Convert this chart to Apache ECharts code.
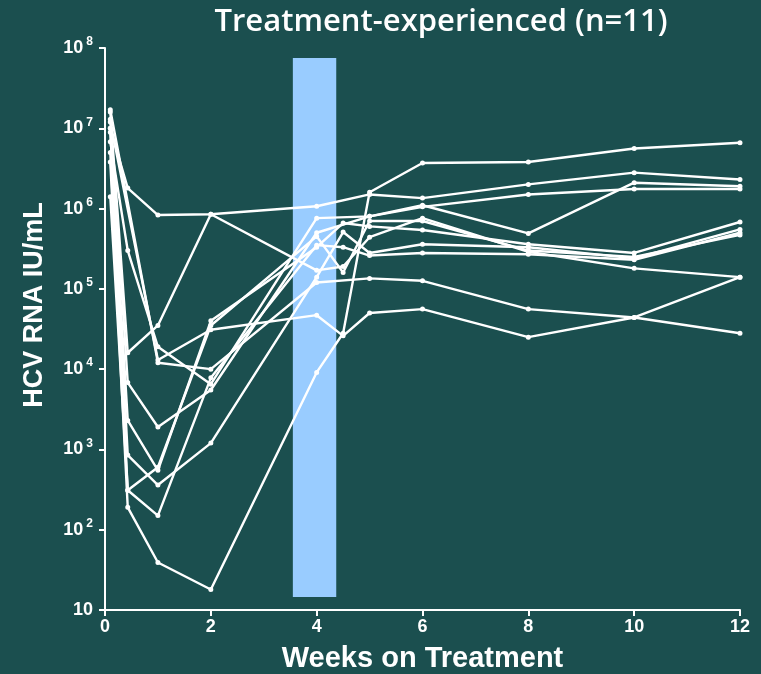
<!DOCTYPE html>
<html>
<head>
<meta charset="utf-8">
<script src="https://cdn.jsdelivr.net/npm/echarts@6/dist/echarts.min.js"></script>
<style>
html, body { margin: 0; padding: 0; background: #1b4f4f; }
#main { width: 761px; height: 674px; }
</style>
</head>
<body>
<div id="main"></div>
<script>
// sampling times (weeks), shared by every patient; null = no sample
var weeks = [0.1, 0.43, 1, 2, 4, 4.5, 5, 6, 8, 10, 12];

// HCV RNA (IU/mL) per patient
var pt1  = [3.8e6, 190, 39, 18, 9.1e3, 2.8e4, 1.6e6, 3.7e6, 3.8e6, 5.6e6, 6.6e6];
var pt2  = [1.0e7, 1.8e6, 8.3e5, 8.5e5, 1.07e6, null, 1.5e6, 1.35e6, 2.0e6, 2.8e6, 2.3e6];
var pt3  = [1.6e7, 1.6e4, 3.5e4, 8.5e5, 1.7e5, 1.9e5, 4.4e5, 7.6e5, 2.9e5, 1.8e5, 1.4e5];
var pt4  = [6.8e6, 3.0e5, 1.9e4, 6.5e3, 7.6e5, null, 8.0e5, 1.05e6, 1.5e6, 1.75e6, 1.75e6];
var pt5  = [1.3e7, 6.8e3, 1.9e3, 5.5e3, 5.0e5, null, 8.0e5, 1.1e6, 4.9e5, 2.1e6, 1.9e6];
var pt6  = [8.9e6, 2.3e3, 550, 4.0e4, 3.3e5, 6.6e5, 6.0e5, 5.4e5, 3.6e5, 2.8e5, 6.8e5];
var pt7  = [1.0e7, 850, 360, 1.2e3, 1.4e5, 5.1e5, 2.8e5, 3.6e5, 3.3e5, 2.4e5, 5.5e5];
var pt8  = [5.0e6, 310, 150, 7.8e3, 3.5e5, 3.3e5, 2.6e5, 2.8e5, 2.7e5, 2.3e5, 5.0e5];
var pt9  = [1.4e6, 310, 600, 3.5e4, 4.5e5, 1.6e5, 7.0e5, 7.0e5, 3.0e5, 2.5e5, 4.7e5];
var pt10 = [1.7e7, null, 1.2e4, 1.0e4, 1.2e5, null, 1.35e5, 1.26e5, 5.6e4, 4.4e4, 2.8e4];
var pt11 = [1.2e7, null, 1.3e4, 3.1e4, 4.7e4, 2.6e4, 5.0e4, 5.6e4, 2.5e4, 4.4e4, 1.4e5];
var patients = [pt1, pt2, pt3, pt4, pt5, pt6, pt7, pt8, pt9, pt10, pt11];

// shaded week-4 window
var bandWeeks = [3.55, 4.37];
var bandLoad = [14.5, 7.5e7];

var yTicks = [10, 1e2, 1e3, 1e4, 1e5, 1e6, 1e7, 1e8];

var dom = document.getElementById('main');
var myChart = echarts.init(dom);

function pairs(vals) {
    var out = [];
    for (var i = 0; i < weeks.length; i++) {
        if (vals[i] != null) out.push([weeks[i], vals[i]]);
    }
    return out;
}

var series = [{
    type: 'line',
    data: [],
    z: 1,
    silent: true,
    markArea: {
        silent: true,
        itemStyle: { color: '#99ccff', opacity: 1 },
        data: [[
            { coord: [bandWeeks[0], bandLoad[0]] },
            { coord: [bandWeeks[1], bandLoad[1]] }
        ]]
    }
}];
patients.forEach(function (p, i) {
    series.push({
        name: 'pt' + (i + 1),
        type: 'line',
        z: 3,
        data: pairs(p),
        symbol: 'emptyCircle',
        symbolSize: 3,
        lineStyle: { color: '#ffffff', width: 2.4 },
        itemStyle: { color: '#ffffff', borderColor: '#ffffff' },
        animation: false
    });
});

var boldFont = 'Liberation Sans, Arial';

option = {
    backgroundColor: '#1b4f4f',
    animation: false,
    title: {
        text: 'Treatment-experienced (n=11)',
        left: 436,
        textAlign: 'center',
        top: 2,
        textStyle: { color: '#ffffff', fontFamily: 'Open Sans', fontWeight: 600, fontSize: 31 }
    },
    graphic: [{
        type: 'text',
        x: 35,
        y: 305,
        rotation: Math.PI / 2,
        style: {
            text: 'HCV RNA IU/mL',
            fill: '#ffffff',
            font: 'bold 27px ' + boldFont,
            textAlign: 'center',
            textVerticalAlign: 'middle'
        }
    }],
    grid: { left: 105, right: 21, top: 48, bottom: 64, outerBoundsMode: 'none' },
    xAxis: {
        type: 'value',
        min: 0, max: 12, interval: 2,
        name: 'Weeks on Treatment',
        nameLocation: 'middle',
        nameGap: 34,
        nameTextStyle: { color: '#ffffff', fontFamily: boldFont, fontWeight: 'bold', fontSize: 29 },
        axisLine: { lineStyle: { color: '#ffffff', width: 2 } },
        axisTick: { show: true, length: 6, lineStyle: { color: '#ffffff', width: 2 } },
        axisLabel: { margin: 8, color: '#ffffff', fontFamily: boldFont, fontWeight: 'bold', fontSize: 18 },
        splitLine: { show: false }
    },
    yAxis: {
        type: 'log',
        logBase: 10,
        min: yTicks[0], max: yTicks[yTicks.length - 1],
        axisLine: { show: true, lineStyle: { color: '#ffffff', width: 2 } },
        axisTick: { show: true, length: 6, lineStyle: { color: '#ffffff', width: 2 } },
        minorTick: { show: false },
        splitLine: { show: false },
        axisLabel: {
            margin: 12,
            formatter: function (v) {
                var e = Math.round(Math.log10(v));
                if (e === 1) return '{b|10}';
                return '{b|10}{s|' + e + '}';
            },
            rich: {
                b: { color: '#ffffff', fontFamily: boldFont, fontWeight: 'bold', fontSize: 18 },
                s: { color: '#ffffff', fontFamily: boldFont, fontWeight: 'bold', fontSize: 12, padding: [0, 0, 12, 3] }
            }
        }
    },
    series: series
};

if (option && typeof option === "object") {
    myChart.setOption(option, true);
}
</script>
</body>
</html>
